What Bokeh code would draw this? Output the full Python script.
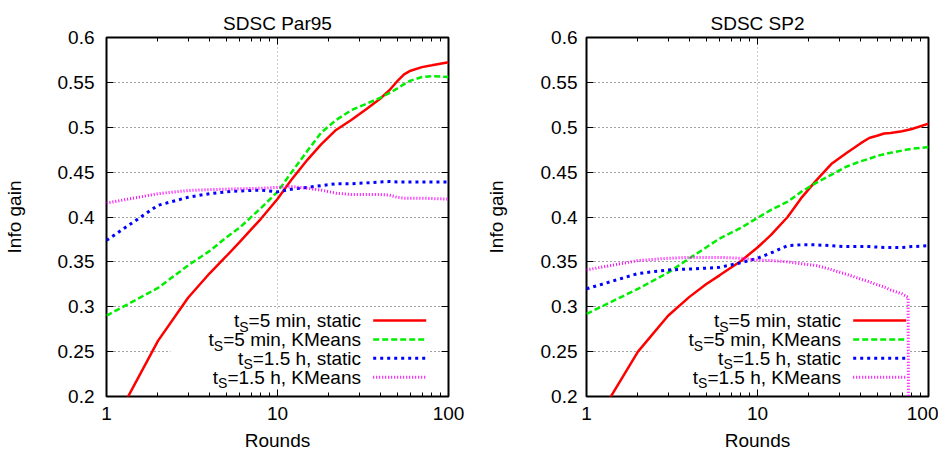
import math
from bokeh.plotting import figure
from bokeh.layouts import row
from bokeh.models import FixedTicker, LogAxis, LinearAxis, Label, BoxAnnotation, Arrow, Range1d
from bokeh.embed import file_html
from bokeh.resources import INLINE

# ---------------- data ----------------
titles = ["SDSC Par95", "SDSC SP2"]
x_axis_label = "Rounds"
y_axis_label = "Info gain"
x_ticks = [1, 10, 100]
x_tick_labels = ["1", "10", "100"]
x_minor_ticks = [2, 3, 4, 5, 6, 7, 8, 9, 20, 30, 40, 50, 60, 70, 80, 90]
y_ticks = [0.2, 0.25, 0.3, 0.35, 0.4, 0.45, 0.5, 0.55, 0.6]
y_tick_labels = ["0.2", "0.25", "0.3", "0.35", "0.4", "0.45", "0.5", "0.55", "0.6"]
legend_prefix = "t"
legend_subscript = "S"
legend_rest = ["=5 min, static", "=5 min, KMeans", "=1.5 h, static", "=1.5 h, KMeans"]

rounds = [1, 2, 3, 4, 5, 6, 8, 10, 12, 15, 18, 22, 27, 33, 40, 45, 50, 55, 60, 70, 80, 100]

par95_5min_static = [0.155, 0.262, 0.310, 0.337, 0.356, 0.372, 0.398, 0.420, 0.441, 0.464, 0.481,
                     0.497, 0.508, 0.520, 0.532, 0.541, 0.551, 0.559, 0.563, 0.567, 0.569, 0.5725]
par95_5min_kmeans = [0.290, 0.321, 0.346, 0.362, 0.377, 0.388, 0.410, 0.428, 0.449, 0.474, 0.494,
                     0.508, 0.519, 0.526, 0.533, 0.538, 0.543, 0.548, 0.552, 0.556, 0.557, 0.556]
par95_1_5h_static = [0.374, 0.413, 0.422, 0.426, 0.428, 0.429, 0.430, 0.428, 0.431, 0.433, 0.435,
                     0.437, 0.437, 0.438, 0.439, 0.4395, 0.439, 0.439, 0.439, 0.439, 0.439, 0.439]
par95_1_5h_kmeans = [0.4155, 0.426, 0.4295, 0.4305, 0.431, 0.4315, 0.432, 0.433, 0.434, 0.432, 0.430,
                     0.4265, 0.425, 0.425, 0.425, 0.4245, 0.422, 0.421, 0.421, 0.421, 0.4205, 0.420]

sp2_5min_static = [0.155, 0.250, 0.290, 0.311, 0.325, 0.335, 0.351, 0.366, 0.380, 0.400, 0.421,
                   0.4405, 0.459, 0.471, 0.482, 0.488, 0.4905, 0.493, 0.4935, 0.4955, 0.498, 0.504]
sp2_5min_kmeans = [0.292, 0.320, 0.338, 0.354, 0.366, 0.376, 0.388, 0.399, 0.408, 0.417, 0.428,
                   0.438, 0.447, 0.456, 0.462, 0.465, 0.468, 0.470, 0.4715, 0.474, 0.476, 0.478]
sp2_1_5h_static = [0.320, 0.337, 0.341, 0.342, 0.343, 0.344, 0.349, 0.354, 0.360, 0.368, 0.369,
                   0.369, 0.368, 0.367, 0.367, 0.367, 0.3665, 0.366, 0.366, 0.366, 0.367, 0.368]
sp2_kmeans_rounds = [1, 2, 3, 4, 5, 6, 8, 10, 12, 15, 18, 22, 27, 33, 40, 45, 50, 55, 60, 70, 76, 77]
sp2_1_5h_kmeans = [0.341, 0.3515, 0.354, 0.355, 0.355, 0.355, 0.354, 0.352, 0.3515, 0.350, 0.348,
                   0.346, 0.3414, 0.3363, 0.331, 0.3277, 0.3247, 0.322, 0.3188, 0.3143, 0.3104, 0.0]

panels = [
    [(rounds, par95_5min_static), (rounds, par95_5min_kmeans),
     (rounds, par95_1_5h_static), (rounds, par95_1_5h_kmeans)],
    [(rounds, sp2_5min_static), (rounds, sp2_5min_kmeans),
     (rounds, sp2_1_5h_static), (sp2_kmeans_rounds, sp2_1_5h_kmeans)],
]

# ---------------- style ----------------
FONT = "Liberation Sans"
FSN = 19.0
FS = f"{FSN}px"
SUB_FS = 14.0
colors = ["#ff0000", "#00ee00", "#0000ff", "#ff00ff"]
dashes = ["solid", "6 3", "3 4", "1 2"]
widths = [2.5, 2.5, 3.0, 3.0]
FW, FH = 342, 359
X0, X1 = 1, 100
Y0, Y1 = 0.2, 0.6

# Arial / Liberation Sans advance widths (1/1000 em)
AW = {' ': 278, ',': 278, '.': 278, '=': 584, '1': 556, '5': 556, 'K': 667, 'M': 833, 'S': 667,
      'a': 556, 'c': 500, 'e': 556, 'h': 556, 'i': 222, 'm': 833, 'n': 556, 's': 500, 't': 278}


def tw(s, size):
    return sum(AW.get(c, 556) for c in s) * size / 1000.0


def dx(px):
    lo, hi = math.log10(X0), math.log10(X1)
    return 10 ** (lo + (hi - lo) * px / FW)


def dy(px):
    return Y0 + (Y1 - Y0) * px / FH


def style_axis(ax, ticks, labels, standoff):
    ax.major_tick_in = 7
    ax.major_tick_out = 0
    ax.minor_tick_in = 4
    ax.minor_tick_out = 0
    ax.major_tick_line_color = "black"
    ax.minor_tick_line_color = "black"
    ax.major_tick_line_width = 1
    ax.minor_tick_line_width = 1
    ax.axis_line_color = None
    ax.major_label_text_font = FONT
    ax.major_label_text_font_size = FS
    ax.major_label_text_color = "black"
    ax.major_label_standoff = standoff
    ax.major_label_overrides = dict(zip(ticks, labels))


def make_panel(idx):
    left = 101 if idx == 0 else 112
    right = 26 if idx == 0 else 10
    p = figure(x_axis_type="log", x_range=Range1d(X0, X1), y_range=Range1d(Y0, Y1),
               frame_width=FW, frame_height=FH, min_border_left=left, min_border_right=right,
               min_border_top=37, min_border_bottom=0, output_backend="svg",
               toolbar_location=None, title=titles[idx])
    p.title.text_font = FONT
    p.title.text_font_size = FS
    p.title.text_font_style = "normal"
    p.title.text_color = "black"
    p.title.align = "center"
    p.title.standoff = 8
    p.outline_line_color = "black"
    p.outline_line_width = 2
    p.background_fill_color = "white"
    p.border_fill_color = "white"

    p.xaxis.ticker = FixedTicker(ticks=x_ticks, minor_ticks=x_minor_ticks)
    p.yaxis.ticker = FixedTicker(ticks=y_ticks, minor_ticks=[])
    style_axis(p.xaxis[0], x_ticks, x_tick_labels, 10)
    style_axis(p.yaxis[0], y_ticks, y_tick_labels, 12 if idx == 0 else 9)
    p.yaxis.minor_tick_line_color = None
    for ax, lab in ((p.xaxis[0], x_axis_label), (p.yaxis[0], y_axis_label)):
        ax.axis_label = lab
        ax.axis_label_text_font = FONT
        ax.axis_label_text_font_size = FS
        ax.axis_label_text_font_style = "normal"
        ax.axis_label_text_color = "black"
    p.xaxis.axis_label_standoff = 7
    p.yaxis.axis_label_standoff = 30 if idx == 0 else 31

    # mirrored ticks (no labels) on top and right
    top = LogAxis(ticker=FixedTicker(ticks=x_ticks, minor_ticks=x_minor_ticks))
    style_axis(top, x_ticks, [""] * len(x_ticks), 0)
    p.add_layout(top, "above")
    rgt = LinearAxis(ticker=FixedTicker(ticks=y_ticks, minor_ticks=[]))
    style_axis(rgt, y_ticks, [""] * len(y_ticks), 0)
    rgt.minor_tick_line_color = None
    p.add_layout(rgt, "right")

    p.xgrid.ticker = FixedTicker(ticks=[10])
    p.xgrid.grid_line_color = "#999999"
    p.xgrid.grid_line_dash = "1 3"
    p.xgrid.grid_line_width = 1
    p.ygrid.grid_line_color = "#444444"
    p.ygrid.grid_line_dash = "1 3"
    p.ygrid.grid_line_width = 1

    # legend background (opaque key), kept clear of the frame outline
    box = BoxAnnotation(left=dx(64), right=dx(321), bottom=dy(1.5), top=dy(85),
                        fill_color="white", fill_alpha=1.0, line_color=None, level="underlay")
    p.add_layout(box)

    for k, (xs, ys) in enumerate(panels[idx]):
        p.line(xs, ys, line_color=colors[k], line_width=widths[k], line_dash=dashes[k])

    # legend: right-aligned text, sample on the right
    row_y = [76, 57, 38.3, 19.3]
    text_right = 254.5
    for k in range(4):
        yk = row_y[k]
        rest = legend_rest[k]
        x_rest = text_right
        x_sub = text_right - tw(rest, FSN)
        x_t = x_sub - tw(legend_subscript, SUB_FS)
        p.add_layout(Label(x=dx(x_rest), y=dy(yk), text=rest, text_align="right",
                           text_baseline="middle", text_font=FONT, text_font_size=FS,
                           text_color="black"))
        p.add_layout(Label(x=dx(x_sub), y=dy(yk - 6), text=legend_subscript, text_align="right",
                           text_baseline="middle", text_font=FONT,
                           text_font_size=f"{SUB_FS}px", text_color="black"))
        p.add_layout(Label(x=dx(x_t), y=dy(yk), text=legend_prefix, text_align="right",
                           text_baseline="middle", text_font=FONT, text_font_size=FS,
                           text_color="black"))
        p.add_layout(Arrow(end=None, x_start=dx(266.7), y_start=dy(yk), x_end=dx(319.7),
                           y_end=dy(yk), line_color=colors[k], line_width=widths[k],
                           line_dash=dashes[k]))
    return p


figs = [make_panel(0), make_panel(1)]
layout = row(*figs)
layout.spacing = 0

open("out.html", "w").write(file_html(layout, INLINE))
